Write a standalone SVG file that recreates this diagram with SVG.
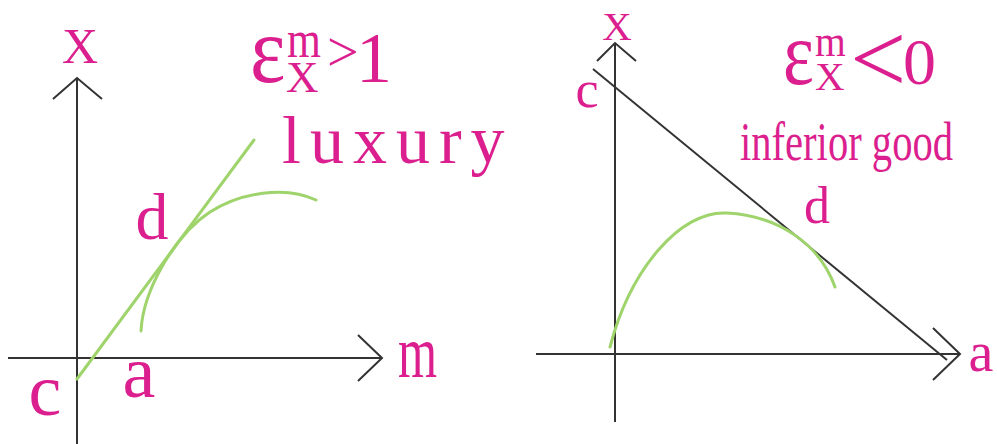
<svg xmlns="http://www.w3.org/2000/svg" width="997" height="444" viewBox="0 0 997 444">
<style>
.ax{stroke:#333;stroke-width:2;fill:none}
.g{stroke:#9fd46c;stroke-width:3;fill:none;stroke-linecap:round}
.t{fill:#dc1f8e;font-family:"Liberation Serif","Times New Roman",serif}
</style>
<rect width="997" height="444" fill="#fff"/>
<g id="connectors">
<path class="ax" d="M77,444 V79 M53,99 L77,78 L102,99"/>
<path class="ax" d="M8,358 H382 M358,335 L382,358 L358,381"/>
<path class="g" d="M77,379 L254,140"/>
<path class="g" d="M141,331 C143,290 175,235 210,212 C240,193 285,185 316,200"/>
<path class="ax" d="M615,422 V44 M597,61 L615,43 L636,61"/>
<path class="ax" d="M536,354 H960 M933,328 L960,354 L933,380"/>
<path class="ax" d="M593,69 L947,360"/>
<path class="g" d="M610,347 C630,270 680,210 727,213 C780,216 820,245 835,287"/>
</g>
<g id="left-labels">
<text class="t" x="80" y="63" font-size="50" text-anchor="middle">X</text>
<text class="t" x="152" y="239" font-size="66" text-anchor="middle">d</text>
<text class="t" x="45" y="415" font-size="74" text-anchor="middle">c</text>
<text class="t" x="139" y="397" font-size="74" text-anchor="middle">a</text>
<text class="t" transform="translate(398,377) scale(0.68,1)" font-size="74">m</text>
</g>
<g id="left-title">
<text class="t" transform="translate(250,82) scale(0.88,1)" font-size="96">ε</text>
<text class="t" transform="translate(287,57) scale(0.84,1)" font-size="52">m</text>
<text class="t" x="286" y="92" font-size="45">X</text>
<text class="t" x="327" y="71" font-size="56">&gt;</text>
<text class="t" x="356" y="82" font-size="72">1</text>
<text class="t" x="282" y="163" font-size="68" letter-spacing="9">luxury</text>
</g>
<g id="right-labels">
<text class="t" x="617" y="40" font-size="41" text-anchor="middle">X</text>
<text class="t" x="587" y="107" font-size="52" text-anchor="middle">c</text>
<text class="t" x="817" y="223" font-size="52" text-anchor="middle">d</text>
<text class="t" x="981" y="371" font-size="56" text-anchor="middle">a</text>
</g>
<g id="right-title">
<text class="t" transform="translate(783,84) scale(0.8,1)" font-size="92">ε</text>
<text class="t" transform="translate(815,56) scale(0.9,1)" font-size="44">m</text>
<text class="t" x="815" y="90" font-size="41">X</text>
<text class="t" x="850" y="92" font-size="100">&lt;</text>
<text class="t" x="903" y="84" font-size="66">0</text>
<text class="t" transform="translate(740,160) scale(0.725,1)" font-size="56">inferior good</text>
</g>
</svg>
